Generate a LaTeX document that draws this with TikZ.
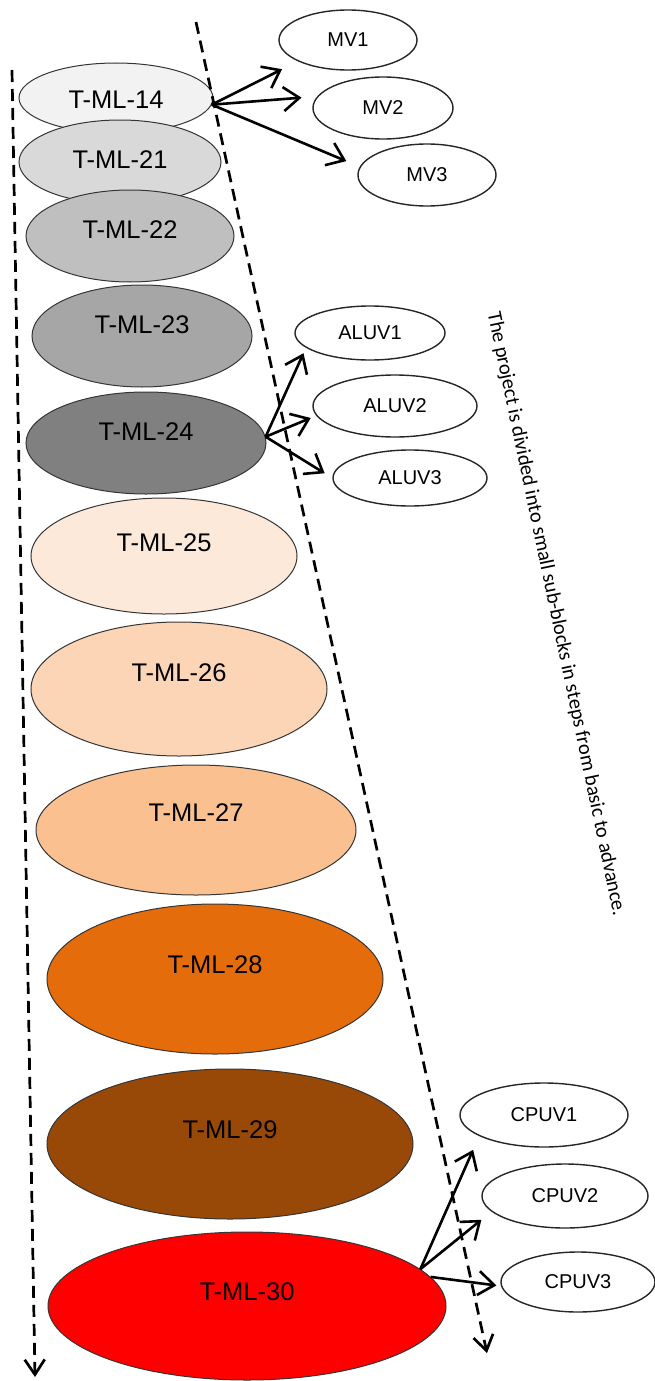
\documentclass[tikz,border=0pt]{standalone}
\usepackage{fontspec}
\setmainfont{Liberation Sans}
\newfontfamily\notefont{Carlito}
\usetikzlibrary{shapes.geometric,arrows.meta}

% stage fills: greys for the basic blocks, oranges to red for the advanced ones
\definecolor{c14}{HTML}{F2F2F2}
\definecolor{c21}{HTML}{D9D9D9}
\definecolor{c22}{HTML}{BFBFBF}
\definecolor{c23}{HTML}{A6A6A6}
\definecolor{c24}{HTML}{808080}
\definecolor{c25}{HTML}{FDE9D9}
\definecolor{c26}{HTML}{FBD5B5}
\definecolor{c27}{HTML}{FAC090}
\definecolor{c28}{HTML}{E46C0A}
\definecolor{c29}{HTML}{984807}
\definecolor{c30}{HTML}{FF0000}
\definecolor{rim}{HTML}{353535}

\begin{document}
\begin{tikzpicture}[x=1pt,y=-1pt,
  stage/.style={ellipse, draw=rim, line width=1pt, inner sep=0pt},
  lab/.style={font=\fontsize{25.5}{30}\selectfont, text=black},
  sub/.style={ellipse, draw=black!85, line width=1.4pt, fill=white, inner sep=0pt,
              font=\fontsize{20}{24}\selectfont},
  link/.style={line width=2.6pt, -{Straight Barb[length=16pt,width=24pt]}},
  flow/.style={line width=2.7pt, dash pattern=on 12pt off 7pt,
               -{Straight Barb[length=15pt,width=20pt]}},
]
\useasboundingbox (0,0) rectangle (654,1381);

% main stages, top to bottom (each later one overlaps the previous)
\node[stage, fill=c14, minimum width=194, minimum height=70,
      label={[lab, yshift=-2pt]center:T-ML-14}] (t14) at (116,98) {};
\node[stage, fill=c21, minimum width=202, minimum height=84,
      label={[lab, yshift=2pt]center:T-ML-21}] (t21) at (120,162) {};
\node[stage, fill=c22, minimum width=208, minimum height=92,
      label={[lab, yshift=6pt]center:T-ML-22}] (t22) at (130,236) {};
\node[stage, fill=c23, minimum width=220, minimum height=102,
      label={[lab, yshift=11pt]center:T-ML-23}] (t23) at (142,336) {};
\node[stage, fill=c24, minimum width=240, minimum height=102,
      label={[lab, yshift=11pt]center:T-ML-24}] (t24) at (146,443) {};
\node[stage, fill=c25, minimum width=266, minimum height=116,
      label={[lab, yshift=13pt]center:T-ML-25}] (t25) at (164,556) {};
\node[stage, fill=c26, minimum width=296, minimum height=134,
      label={[lab, yshift=16pt]center:T-ML-26}] (t26) at (179,689) {};
\node[stage, fill=c27, minimum width=320, minimum height=130,
      label={[lab, yshift=17pt]center:T-ML-27}] (t27) at (196,830) {};
\node[stage, fill=c28, minimum width=336, minimum height=150,
      label={[lab, yshift=14pt]center:T-ML-28}] (t28) at (215,979) {};
\node[stage, fill=c29, minimum width=366, minimum height=150,
      label={[lab, yshift=14pt]center:T-ML-29}] (t29) at (230,1144) {};
\node[stage, fill=c30, minimum width=398, minimum height=148,
      label={[lab, yshift=14pt]center:T-ML-30}] (t30) at (247,1306) {};

% sub-blocks
\node[sub, minimum width=138, minimum height=60] (mv1) at (348,40) {MV1};
\node[sub, minimum width=140, minimum height=62] (mv2) at (383,108) {MV2};
\node[sub, minimum width=138, minimum height=62] (mv3) at (427,175) {MV3};
\node[sub, minimum width=150, minimum height=54] (aluv1) at (370,333) {ALUV1};
\node[sub, minimum width=164, minimum height=62] (aluv2) at (395,406) {ALUV2};
\node[sub, minimum width=154, minimum height=56] (aluv3) at (410,478) {ALUV3};
\node[sub, minimum width=168, minimum height=64] (cpuv1) at (544,1115) {CPUV1};
\node[sub, minimum width=166, minimum height=64] (cpuv2) at (565,1196) {CPUV2};
\node[sub, minimum width=154, minimum height=60] (cpuv3) at (578,1282) {CPUV3};

% progression arrows
\coordinate (lt) at (12,70);
\coordinate (lb) at (35,1377);
\coordinate (rt) at (196,22);
\coordinate (rb) at (487,1353);
\draw[flow] (lt) -- (lb);
\draw[flow] (rt) -- (rb);

% branching into sub-blocks
\draw[link, shorten >=17.6pt] (t14.-4) -- (mv1.203);
\draw[link, shorten >=15.7pt] (t14.-4) -- (mv2.170);
\draw[link, shorten >=14.5pt] (t14.-4) -- (mv3.173);

\draw[link, shorten >=6pt] (t24.3) -- (aluv1.193);
\draw[link, shorten >=6pt] (t24.3) -- (aluv2.187);
\draw[link, shorten >=9pt] (t24.3) -- (aluv3.180);

\draw[link, shorten >=15pt] (t30.12) -- (cpuv1.198);
\draw[link, shorten >=13pt] (t30.12) -- (cpuv2.192);
\draw[link, shorten >=4.6pt] (t30.9) -- (cpuv3.183);

% side note
\node[rotate=-78.2, inner sep=0pt, font=\notefont\fontsize{20.5}{24}\selectfont]
  (note) at (556,614)
  {The project is divided into small sub-blocks in steps from basic to advance.};
\end{tikzpicture}
\end{document}
